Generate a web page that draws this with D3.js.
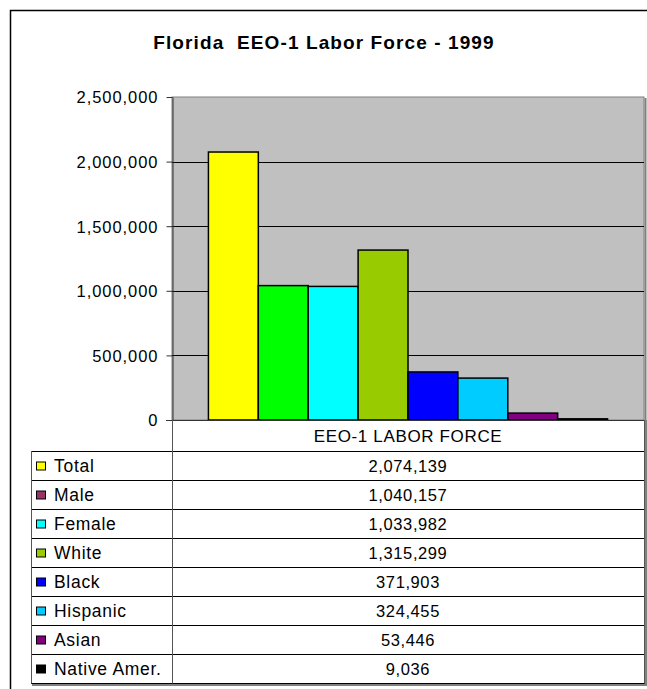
<!DOCTYPE html>
<html>
<head>
<meta charset="utf-8">
<script src="https://cdn.jsdelivr.net/npm/d3@7"></script>
<style>
  body { margin: 0; background: #fff; }
  text { font-family: "Liberation Sans", Arial, sans-serif; fill: #000; }
</style>
</head>
<body>
<div id="chart"></div>
<script>
// data
const categories = ["Total", "Male", "Female", "White", "Black", "Hispanic", "Asian", "Native Amer."];
const values = [2074139, 1040157, 1033982, 1315299, 371903, 324455, 53446, 9036];
const barColors = ["#FFFF00", "#00FF00", "#00FFFF", "#99CC00", "#0000FF", "#00CCFF", "#800080", "#000000"];
const keyColors = ["#FFFF00", "#993366", "#00FFFF", "#99CC00", "#0000FF", "#00CCFF", "#800080", "#000000"];
const yTicks = [0, 500000, 1000000, 1500000, 2000000, 2500000];
const seriesLabel = "EEO-1 LABOR FORCE";
const title = "Florida  EEO-1 Labor Force - 1999";

const W = 647, H = 689;
const plot = { left: 172, right: 644, top: 97, bottom: 420 };
const table = { left: 31, top: 451, row: 29 };

const svg = d3.select("#chart").append("svg")
    .attr("width", W)
    .attr("height", H);

// outer chart frame (runs off the right/bottom edge)
svg.append("rect")
    .attr("x", 10.5).attr("y", 10.5)
    .attr("width", 700).attr("height", 700)
    .attr("fill", "#fff")
    .attr("stroke", "#000").attr("stroke-width", 1.5);

svg.append("text")
    .attr("x", 324).attr("y", 49)
    .attr("text-anchor", "middle")
    .style("font-size", "19px")
    .style("font-weight", "bold")
    .style("letter-spacing", "1.1px")
    .style("white-space", "pre")
    .text(title);

const y = d3.scaleLinear()
    .domain([0, 2500000])
    .range([plot.bottom, plot.top]);

const x = d3.scaleBand()
    .domain(categories)
    .range([plot.left, plot.right])
    .paddingInner(0)
    .paddingOuter(0.73);

// plot area
svg.append("rect")
    .attr("x", plot.left).attr("y", plot.top)
    .attr("width", plot.right - plot.left)
    .attr("height", plot.bottom - plot.top)
    .attr("fill", "#C0C0C0")
    .attr("stroke", "#808080");
svg.append("line")
    .attr("x1", plot.right + 1.5).attr("x2", plot.right + 1.5)
    .attr("y1", plot.top + 1).attr("y2", plot.bottom)
    .attr("stroke", "#808080").attr("stroke-width", 2);

// gridlines
svg.append("g")
    .selectAll("line")
    .data(yTicks.filter(d => d > 0 && d < 2500000))
    .join("line")
    .attr("x1", plot.left).attr("x2", plot.right)
    .attr("y1", d => Math.round(y(d)) + 0.5)
    .attr("y2", d => Math.round(y(d)) + 0.5)
    .attr("stroke", "#000");

// bars
svg.append("g")
    .selectAll("rect")
    .data(values)
    .join("rect")
    .attr("x", (d, i) => x(categories[i]))
    .attr("y", d => y(d))
    .attr("width", x.bandwidth())
    .attr("height", d => y(0) - y(d))
    .attr("fill", (d, i) => barColors[i])
    .attr("stroke", "#000")
    .attr("stroke-width", 1.5);

// y axis
const yAxis = svg.append("g")
    .attr("transform", "translate(" + (plot.left + 0.5) + ",0)")
    .call(d3.axisLeft(y).tickValues(yTicks).tickFormat(d3.format(",")).tickSize(6).tickSizeOuter(0));
yAxis.select(".domain").attr("stroke", "#333");
yAxis.selectAll(".tick line").attr("stroke", "#333");
yAxis.selectAll(".tick text")
    .attr("x", -14)
    .attr("dy", "0.36em")
    .style("font-size", "16.5px")
    .style("letter-spacing", "0.95px")
    .style("font-family", "'Liberation Sans', Arial, sans-serif");

// zero line
svg.append("line")
    .attr("x1", plot.left - 6).attr("x2", plot.right)
    .attr("y1", y(0) + 0.5).attr("y2", y(0) + 0.5)
    .attr("stroke", "#333");

// data table
const tableBottom = table.top + categories.length * table.row;
svg.append("text")
    .attr("x", (plot.left + plot.right) / 2)
    .attr("y", (plot.bottom + table.top) / 2 + 6)
    .attr("text-anchor", "middle")
    .style("font-size", "17px")
    .style("letter-spacing", "0.65px")
    .text(seriesLabel);

svg.append("g")
    .selectAll("line")
    .data(d3.range(categories.length + 1))
    .join("line")
    .attr("x1", table.left).attr("x2", plot.right + 1)
    .attr("y1", i => table.top + i * table.row + 0.5)
    .attr("y2", i => table.top + i * table.row + 0.5)
    .attr("stroke", "#000");

[[table.left, table.top], [plot.left, plot.bottom], [plot.right, plot.bottom]].forEach(([vx, vy]) => {
    svg.append("line")
        .attr("x1", vx + 0.5).attr("x2", vx + 0.5)
        .attr("y1", vy).attr("y2", tableBottom + 0.5)
        .attr("stroke", "#555");
});
// table shadow
svg.append("line")
    .attr("x1", plot.right + 2).attr("x2", plot.right + 2)
    .attr("y1", plot.bottom).attr("y2", tableBottom + 2)
    .attr("stroke", "#808080").attr("stroke-width", 2);
svg.append("line")
    .attr("x1", table.left + 1).attr("x2", plot.right + 3)
    .attr("y1", tableBottom + 2).attr("y2", tableBottom + 2)
    .attr("stroke", "#808080").attr("stroke-width", 2);

const rows = svg.append("g")
    .selectAll("g")
    .data(categories)
    .join("g")
    .attr("transform", (d, i) => "translate(0," + (table.top + i * table.row + table.row / 2) + ")");

rows.append("rect")
    .attr("x", 36.5).attr("y", -3.5)
    .attr("width", 9).attr("height", 8)
    .attr("fill", (d, i) => keyColors[i])
    .attr("stroke", "#000");

rows.append("text")
    .attr("x", 54).attr("y", 6)
    .style("font-size", "17.5px")
    .style("letter-spacing", "0.7px")
    .text(d => d);

rows.append("text")
    .attr("x", (plot.left + plot.right) / 2).attr("y", 6)
    .attr("text-anchor", "middle")
    .style("font-size", "16.5px")
    .style("letter-spacing", "0.6px")
    .text((d, i) => d3.format(",")(values[i]));
</script>
</body>
</html>
